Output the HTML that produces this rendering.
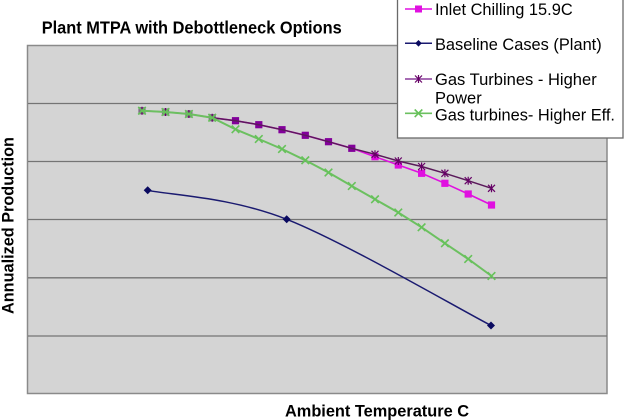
<!DOCTYPE html>
<html><head><meta charset="utf-8"><style>
html,body{margin:0;padding:0;background:#fff;}
svg{display:block;}
text{font-family:"Liberation Sans",Arial,sans-serif;fill:#000;}
</style></head><body>
<svg width="624" height="420" viewBox="0 0 624 420" xmlns="http://www.w3.org/2000/svg">
<defs>
<g id="sq"><rect x="-3.6" y="-3.6" width="7.2" height="7.2"/></g>
<g id="star" stroke="#660066" stroke-width="1.2" fill="none"><path d="M-3.5,-3.5L3.5,3.5M-3.5,3.5L3.5,-3.5M0,-4V4"/></g>
<g id="ex" stroke="#66c25a" stroke-width="1.6" fill="none"><path d="M-3.8,-3.8L3.8,3.8M-3.8,3.8L3.8,-3.8"/></g>
</defs>
<rect x="0" y="0" width="624" height="420" fill="#fff"/>
<!-- plot area -->
<rect x="27.5" y="45.5" width="579.5" height="348" fill="#d4d4d4" stroke="#8a8a8a" stroke-width="1.5"/>
<g stroke="#747474" stroke-width="1.3">
<line x1="28" y1="103.5" x2="607" y2="103.5"/>
<line x1="28" y1="161.5" x2="607" y2="161.5"/>
<line x1="28" y1="219.5" x2="607" y2="219.5"/>
<line x1="28" y1="277.8" x2="607" y2="277.8"/>
<line x1="28" y1="336" x2="607" y2="336"/>
</g>
<!-- Title -->
<text x="41.7" y="33.3" font-size="17.3" font-weight="bold" textLength="300" lengthAdjust="spacingAndGlyphs">Plant MTPA with Debottleneck Options</text>
<text x="285" y="416.7" font-size="16.4" font-weight="bold" textLength="184" lengthAdjust="spacingAndGlyphs">Ambient Temperature C</text>
<text transform="translate(13.3,314) rotate(-90)" x="0" y="0" font-size="16.4" font-weight="bold" textLength="177" lengthAdjust="spacingAndGlyphs">Annualized Production</text>

<!-- Inlet chilling (magenta) -->
<polyline fill="none" stroke="#e010e0" stroke-width="1.6" points="142,110.7 165.5,112 188.9,114 212.2,117.7 235.5,120.7 258.8,124.7 282,129.7 305.3,135.3 328.5,141.7 351.8,148.3 375,156.7 398.3,165 421.6,173.3 444.9,183.3 468.2,194 491.5,205"/>
<g fill="#e010e0">
<use href="#sq" x="375" y="156.7"/><use href="#sq" x="398.3" y="165"/><use href="#sq" x="421.6" y="173.3"/><use href="#sq" x="444.9" y="183.3"/><use href="#sq" x="468.2" y="194"/><use href="#sq" x="491.5" y="205"/>
</g>
<g fill="#82009a">
<use href="#sq" x="235.5" y="120.7"/><use href="#sq" x="258.8" y="124.7"/><use href="#sq" x="282" y="129.7"/><use href="#sq" x="305.3" y="135.3"/><use href="#sq" x="328.5" y="141.7"/><use href="#sq" x="351.8" y="148.3"/>
</g>
<g fill="#7d6a85">
<use href="#sq" x="142" y="110.7"/><use href="#sq" x="165.5" y="112"/><use href="#sq" x="188.9" y="114"/><use href="#sq" x="212.2" y="117.7"/>
</g>

<!-- Baseline (navy, smoothed) -->
<path d="M147.7,190.3 C170.9,195.1 229.5,196.8 286.7,219.3 C343.9,241.8 457,307.8 491,325.5" fill="none" stroke="#1a1a70" stroke-width="1.5"/>
<g fill="#0a0a60">
<path d="M147.7,186.3 L151.7,190.3 L147.7,194.3 L143.7,190.3Z"/>
<path d="M286.7,215.3 L290.7,219.3 L286.7,223.3 L282.7,219.3Z"/>
<path d="M491,321.5 L495,325.5 L491,329.5 L487,325.5Z"/>
</g>

<!-- GT higher power (purple stars) -->
<polyline fill="none" stroke="#5a1a5a" stroke-width="1.5" points="212.2,117.7 235.5,120.7 258.8,124.7 282,129.7 305.3,135.3 328.5,141.7 351.8,148.3 375,154.3 398.3,161 421.6,166.5 444.9,173.3 468.2,180.7 491.5,188.3"/>
<g>
<use href="#star" x="375" y="154.3"/><use href="#star" x="398.3" y="161"/><use href="#star" x="421.6" y="166.5"/><use href="#star" x="444.9" y="173.3"/><use href="#star" x="468.2" y="180.7"/><use href="#star" x="491.5" y="188.3"/>
<use href="#star" x="142" y="110.7"/><use href="#star" x="165.5" y="112"/><use href="#star" x="188.9" y="114"/><use href="#star" x="212.2" y="117.7"/>
</g>

<!-- GT higher eff (green x) -->
<polyline fill="none" stroke="#6cc060" stroke-width="2" points="142,110.7 165.5,112 188.9,114 212.2,117.7 235.5,129.3 258.8,139 282,149 305.3,160.3 328.5,172.5 351.8,186 375,199.3 398.3,212.5 421.6,227.3 444.9,243.3 468.2,259 491.5,276"/>
<g>
<use href="#ex" x="142" y="110.7"/><use href="#ex" x="165.5" y="112"/><use href="#ex" x="188.9" y="114"/><use href="#ex" x="212.2" y="117.7"/>
<use href="#ex" x="235.5" y="129.3"/><use href="#ex" x="258.8" y="139"/><use href="#ex" x="282" y="149"/><use href="#ex" x="305.3" y="160.3"/>
<use href="#ex" x="328.5" y="172.5"/><use href="#ex" x="351.8" y="186"/><use href="#ex" x="375" y="199.3"/><use href="#ex" x="398.3" y="212.5"/>
<use href="#ex" x="421.6" y="227.3"/><use href="#ex" x="444.9" y="243.3"/><use href="#ex" x="468.2" y="259"/><use href="#ex" x="491.5" y="276"/>
</g>

<!-- Legend -->
<rect x="397.5" y="-2" width="225.5" height="140" fill="#fff" stroke="#6a6a6a" stroke-width="1.3"/>
<line x1="405" y1="9" x2="432" y2="9" stroke="#e010e0" stroke-width="1.6"/>
<rect x="415" y="5.5" width="7" height="7" fill="#e010e0"/>
<text x="435" y="15" font-size="17" textLength="137.7" lengthAdjust="spacingAndGlyphs">Inlet Chilling 15.9C</text>

<line x1="405" y1="43.3" x2="432" y2="43.3" stroke="#1a1a70" stroke-width="1.5"/>
<path d="M418.5,40 L421.8,43.3 L418.5,46.6 L415.2,43.3Z" fill="#0a0a60"/>
<text x="435" y="50" font-size="17" textLength="166.7" lengthAdjust="spacingAndGlyphs">Baseline Cases (Plant)</text>

<line x1="405" y1="79" x2="432" y2="79" stroke="#8a3a9a" stroke-width="1.5"/>
<use href="#star" x="418.5" y="79"/>
<text x="435" y="85" font-size="17" textLength="161.7" lengthAdjust="spacingAndGlyphs">Gas Turbines - Higher</text>
<text x="435" y="103.5" font-size="17" textLength="46.7" lengthAdjust="spacingAndGlyphs">Power</text>

<line x1="405" y1="113.3" x2="432" y2="113.3" stroke="#6cc060" stroke-width="1.6"/>
<use href="#ex" x="418.5" y="113.3"/>
<text x="435" y="120.5" font-size="17" textLength="180" lengthAdjust="spacingAndGlyphs">Gas turbines- Higher Eff.</text>
</svg>
</body></html>
